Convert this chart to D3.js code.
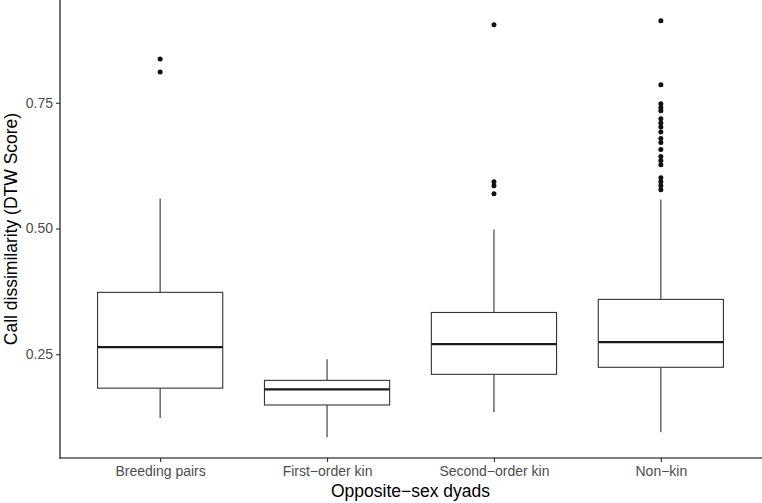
<!DOCTYPE html>
<html>
<head>
<meta charset="utf-8">
<script src="https://cdn.jsdelivr.net/npm/d3@7"></script>
<style>
  body { margin: 0; background: #fff; }
  svg { display: block; }
  text { font-family: "Liberation Sans", Arial, Helvetica, sans-serif; }
</style>
</head>
<body>
<svg id="chart" width="762" height="503"></svg>
<script>
// box stats
var categories = ["Breeding pairs", "First\u2212order kin", "Second\u2212order kin", "Non\u2212kin"];
var whiskerLow = [0.123, 0.085, 0.135, 0.095];
var q1 = [0.1825, 0.149, 0.210, 0.224];
var median = [0.264, 0.180, 0.270, 0.274];
var q3 = [0.373, 0.198, 0.333, 0.359];
var whiskerHigh = [0.5595, 0.240, 0.498, 0.5575];
var outliers = [
  [0.837, 0.811],
  [],
  [0.905, 0.593, 0.585, 0.569],
  [0.913, 0.786, 0.748, 0.740, 0.734, 0.718, 0.710, 0.702, 0.692, 0.679, 0.671,
   0.657, 0.643, 0.635, 0.627, 0.601, 0.593, 0.585, 0.577]
];
var yTicks = [0.25, 0.50, 0.75];

var svg = d3.select("#chart");
var pLeft = 60, pRight = 761, pTop = 0, pBottom = 458;

// ggplot style expansion: 5% continuous, 0.6 discrete
var lo = d3.min(whiskerLow), hi = d3.max(outliers.flat());
var pad = (hi - lo) * 0.05;
var y = d3.scaleLinear().domain([lo - pad, hi + pad]).range([pBottom, pTop]);
var x = d3.scalePoint().domain(categories).range([pLeft, pRight]).padding(0.6);
var step = x.step();
var bw = step * 0.75;

var g = svg.append("g");

categories.forEach(function(c, i){
  var cx = x(c);
  var box = g.append("g").attr("class", "box");
  box.append("line").attr("x1", cx).attr("x2", cx)
    .attr("y1", y(q3[i])).attr("y2", y(whiskerHigh[i]))
    .attr("stroke", "#333").attr("stroke-width", 1.1);
  box.append("line").attr("x1", cx).attr("x2", cx)
    .attr("y1", y(q1[i])).attr("y2", y(whiskerLow[i]))
    .attr("stroke", "#333").attr("stroke-width", 1.1);
  box.append("rect").attr("x", cx - bw/2).attr("width", bw)
    .attr("y", y(q3[i])).attr("height", y(q1[i]) - y(q3[i]))
    .attr("fill", "#fff").attr("stroke", "#333").attr("stroke-width", 1.1);
  box.append("line").attr("x1", cx - bw/2).attr("x2", cx + bw/2)
    .attr("y1", y(median[i])).attr("y2", y(median[i]))
    .attr("stroke", "#1a1a1a").attr("stroke-width", 2.3);
  box.selectAll("circle").data(outliers[i]).enter().append("circle")
    .attr("cx", cx).attr("cy", function(d){ return y(d); })
    .attr("r", 2.5).attr("fill", "#111");
});

// axes
var yAxis = d3.axisLeft(y).tickValues(yTicks).tickFormat(d3.format(".2f")).tickSize(4).tickPadding(3);
var ya = svg.append("g").attr("transform", "translate(" + pLeft + ",0)").call(yAxis);
var xAxis = d3.axisBottom(x).tickSize(4).tickPadding(4);
var xa = svg.append("g").attr("transform", "translate(0," + pBottom + ")").call(xAxis);

[ya, xa].forEach(function(a){
  a.select(".domain").remove();
  a.selectAll(".tick line").attr("stroke", "#333").attr("stroke-width", 1.1);
  a.selectAll(".tick text").attr("fill", "#4d4d4d").style("font-size", "14px")
    .style("font-family", "'Liberation Sans', Arial, sans-serif");
});

svg.append("line").attr("x1", pLeft).attr("x2", pLeft).attr("y1", pTop).attr("y2", pBottom + 0.5)
  .attr("stroke", "#000").attr("stroke-width", 1.1);
svg.append("line").attr("x1", pLeft - 0.5).attr("x2", pRight + 1).attr("y1", pBottom).attr("y2", pBottom)
  .attr("stroke", "#000").attr("stroke-width", 1.1);

svg.append("text").attr("x", (pLeft + pRight) / 2).attr("y", 497)
  .attr("text-anchor", "middle").style("font-size", "17.5px").attr("fill", "#000")
  .text("Opposite\u2212sex dyads");
svg.append("text").attr("transform", "translate(17," + ((pTop + pBottom) / 2) + ") rotate(-90)")
  .attr("text-anchor", "middle").style("font-size", "17.5px").attr("fill", "#000")
  .text("Call dissimilarity (DTW Score)");
</script>
</body>
</html>
